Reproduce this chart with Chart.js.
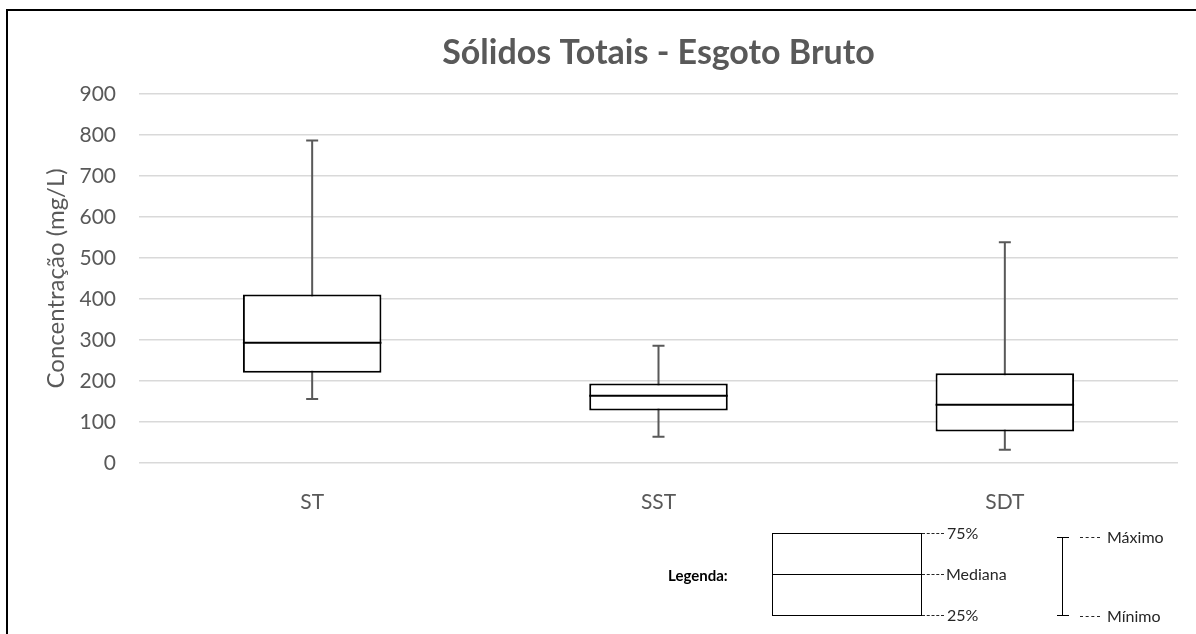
<!DOCTYPE html>
<html>
<head>
<meta charset="utf-8">
<script src="https://cdn.jsdelivr.net/npm/chart.js@4.4.0/dist/chart.umd.min.js"></script>
<style>
    html, body { margin: 0; padding: 0; background: #fff; }
    #wrap { position: relative; width: 1196px; height: 634px; font-family: Lato, sans-serif; }
    #moldura { position: absolute; left: 6px; top: 9px; right: 0; bottom: 0; border-top: 2px solid #000; border-left: 2px solid #000; pointer-events: none; }
    .leg { position: absolute; color: #262626; font-size: 16px; line-height: 16px; white-space: nowrap; }
    .tr { position: absolute; border-top: 1px dashed #262626; width: 22px; height: 0; }
</style>
</head>
<body>
<div id="wrap">
    <canvas id="grafico" width="1196" height="634"></canvas>
    <div id="moldura"></div>

    <!-- legenda desenhada à parte, como no original -->
    <div class="leg" style="left:668px; top:567px; font-weight:bold; font-size:15px; color:#000;">Legenda:</div>
    <div style="position:absolute; left:772px; top:533px; width:148px; height:81px; border:1px solid #000;"></div>
    <div style="position:absolute; left:772px; top:574px; width:150px; height:0; border-top:1px solid #000;"></div>
    <div class="tr" style="left:922px; top:533px;"></div>
    <div class="tr" style="left:922px; top:574px;"></div>
    <div class="tr" style="left:922px; top:615px;"></div>
    <div class="leg" style="left:947px; top:525px;">75%</div>
    <div class="leg" style="left:946px; top:566px;">Mediana</div>
    <div class="leg" style="left:947px; top:607px;">25%</div>

    <div style="position:absolute; left:1062px; top:537px; width:0; height:79px; border-left:1px solid #000;"></div>
    <div style="position:absolute; left:1057px; top:537px; width:12px; height:0; border-top:1px solid #000;"></div>
    <div style="position:absolute; left:1057px; top:615px; width:12px; height:0; border-top:1px solid #000;"></div>
    <div class="tr" style="left:1080px; top:537px; width:20px;"></div>
    <div class="tr" style="left:1080px; top:616px; width:20px;"></div>
    <div class="leg" style="left:1107px; top:529px;">Máximo</div>
    <div class="leg" style="left:1107px; top:608px;">Mínimo</div>
</div>

<script>
const categorias = ['ST', 'SST', 'SDT'];
const minimos  = [156, 64, 32];
const quartil1 = [220, 128, 77];
const medianas = [293, 164, 142];
const quartil3 = [411, 194, 219];
const maximos  = [786, 286, 538];

const eixoYMin = 0;
const eixoYMax = 900;
const eixoYPasso = 100;

// caixas como barras flutuantes [Q1, Q3]
let caixas = categorias.map(function(c, i) {
    return [quartil1[i], quartil3[i]];
});

// bigodes e medianas desenhados com as escalas do próprio gráfico
const boxplotPlugin = {
    id: 'boxplotExtra',
    beforeDatasetsDraw(chart) {
        let ctx = chart.ctx;
        let x = chart.scales.x;
        let y = chart.scales.y;
        ctx.save();
        ctx.strokeStyle = '#595959';
        ctx.lineWidth = 2;
        for (let i = 0; i < categorias.length; i++) {
            let px = x.getPixelForValue(i);
            let yMax = y.getPixelForValue(maximos[i]);
            let yMin = y.getPixelForValue(minimos[i]);
            ctx.beginPath();
            ctx.moveTo(px, yMax);
            ctx.lineTo(px, yMin);
            ctx.moveTo(px - 6, yMax);
            ctx.lineTo(px + 6, yMax);
            ctx.moveTo(px - 6, yMin);
            ctx.lineTo(px + 6, yMin);
            ctx.stroke();
        }
        ctx.restore();
    },
    afterDatasetsDraw(chart) {
        let ctx = chart.ctx;
        let y = chart.scales.y;
        let meta = chart.getDatasetMeta(0);
        ctx.save();
        ctx.strokeStyle = '#000';
        ctx.lineWidth = 2;
        meta.data.forEach(function(bar, i) {
            let py = y.getPixelForValue(medianas[i]);
            ctx.beginPath();
            ctx.moveTo(bar.x - bar.width / 2, py);
            ctx.lineTo(bar.x + bar.width / 2, py);
            ctx.stroke();
        });
        ctx.restore();
    }
};

let ctx = document.getElementById('grafico').getContext('2d');
new Chart(ctx, {
    type: 'bar',
    data: {
        labels: categorias,
        datasets: [{
            label: 'Caixa',
            data: caixas,
            backgroundColor: '#fff',
            borderColor: '#000',
            borderWidth: 2,
            borderSkipped: false,
            barPercentage: 0.4,
            categoryPercentage: 1.0
        }]
    },
    options: {
        responsive: false,
        animation: false,
        layout: {
            padding: { left: 42, right: 18, top: 10, bottom: 111 }
        },
        plugins: {
            legend: { display: false },
            tooltip: { enabled: false },
            title: {
                display: true,
                fullSize: false,
                text: 'Sólidos Totais - Esgoto Bruto',
                color: '#595959',
                font: { family: 'Lato', size: 34, weight: 'bold' },
                padding: { top: 23, bottom: 20 }
            }
        },
        scales: {
            x: {
                grid: { display: false },
                border: { display: false },
                ticks: {
                    color: '#595959',
                    font: { family: 'Lato', size: 21 },
                    padding: 19
                },
                afterFit: function(scale) {
                    scale.height = 60;
                }
            },
            y: {
                min: eixoYMin,
                max: eixoYMax,
                border: { display: false },
                grid: { color: '#d9d9d9', lineWidth: 1.5, drawTicks: false },
                ticks: {
                    stepSize: eixoYPasso,
                    color: '#595959',
                    font: { family: 'Lato', size: 21 },
                    padding: 23
                },
                title: {
                    display: true,
                    text: 'Concentração (mg/L)',
                    color: '#595959',
                    font: { family: 'Lato', size: 24 },
                    padding: 0
                },
                afterFit: function(scale) {
                    scale.width = 97;
                }
            }
        }
    },
    plugins: [boxplotPlugin]
});
</script>
</body>
</html>
